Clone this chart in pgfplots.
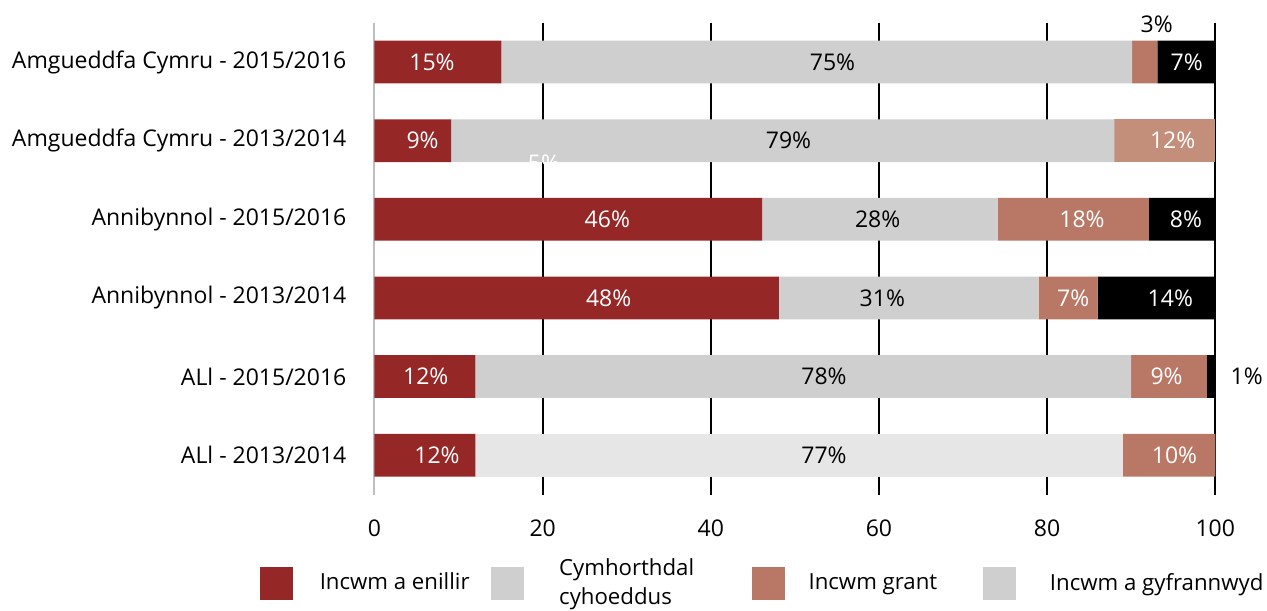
\documentclass[border=0pt]{standalone}
\usepackage{pgfplots}
\usepackage{pgfplotstable}
\pgfplotsset{compat=1.18}
\usepackage{fontspec}
\setmainfont{Open Sans}

\definecolor{enillir}{HTML}{952727}
\definecolor{cyhoedd}{HTML}{CFCFCF}
\definecolor{cyhoeddB}{HTML}{E6E6E6}
\definecolor{grant}{HTML}{B97866}
\definecolor{grantB}{HTML}{C38F7A}

% rows: 0 = Amgueddfa Cymru 2015/2016 ... 5 = ALl 2013/2014
\pgfplotstableread{
x y
15.1 0
9.1 1
46.1 2
48.1 3
12.0 4
12.0 5
}\tEnillir
\pgfplotstableread{
x y
75.0 0
78.9 1
28.0 2
30.9 3
78.0 4
0 5
}\tCyhoedd
\pgfplotstableread{
x y
0 0
0 1
0 2
0 3
0 4
77.0 5
}\tCyhoeddB
\pgfplotstableread{
x y
3.0 0
0 1
18.0 2
7.0 3
9.0 4
11.0 5
}\tGrant
\pgfplotstableread{
x y
0 0
12.0 1
0 2
0 3
0 4
0 5
}\tGrantB
\pgfplotstableread{
x y
6.9 0
0 1
7.9 2
14.0 3
1.0 4
0 5
}\tGyfrannwyd

% data labels: centre of the text
\pgfplotstableread{
x y label
6.84 0 15\%
5.72 1 9\%
27.69 2 46\%
27.85 3 48\%
6.1 4 12\%
7.43 5 12\%
94.93 1 12\%
84.14 2 18\%
83.1 3 7\%
94.2 4 9\%
95.15 5 10\%
96.6 0 7\%
96.51 2 8\%
94.65 3 14\%
20.16 1.288 5\%
}\tLblWhite
\pgfplotstableread{
x y label
54.47 0 75\%
49.24 1 79\%
59.84 2 28\%
60.4 3 31\%
53.46 4 78\%
53.46 5 77\%
93.03 -0.48 3\%
103.74 4 1\%
}\tLblBlack

\newcommand{\lblfont}{\fontsize{11.5}{14.5}\selectfont}
\newcommand{\legfont}{\fontsize{11.1}{14.5}\selectfont}

\pgfplotsset{
  frame/.style={scale only axis, width=420.4pt, height=235.9pt,
    xmin=0, xmax=100, ymin=-0.5, ymax=5.5, y dir=reverse},
}

\begin{document}
\begin{tikzpicture}
\useasboundingbox (-187.25pt,-57.75pt) rectangle (446.25pt,247.25pt);
\begin{axis}[
  frame,
  xbar stacked,
  bar width=21.35pt,
  axis lines*=left,
  x axis line style={draw=none},
  y axis line style={draw=black!25, line width=1pt},
  major tick length=0pt,
  xtick={0,20,...,100},
  extra x ticks={20,40,60,80,100},
  extra x tick labels={},
  extra x tick style={grid=major, major grid style={black, line width=1pt}},
  ytick={0,...,5},
  yticklabels={Amgueddfa Cymru - 2015/2016, Amgueddfa Cymru - 2013/2014,
    Annibynnol - 2015/2016, Annibynnol - 2013/2014,
    ALl - 2015/2016, ALl - 2013/2014},
  tick label style={font=\lblfont, text=black},
  /pgf/number format/assume math mode=true,
  xticklabel style={inner sep=0pt, yshift=-12.4pt},
  yticklabel style={inner sep=0pt, xshift=-13.9pt},
  legend columns=4,
  legend style={at={(0,0)}, anchor=west, xshift=-57.25pt, yshift=-44.25pt,
    draw=none, fill=none, inner sep=0pt, column sep=0pt, row sep=0pt,
    cells={anchor=west},
    nodes={inner sep=0pt, font=\legfont, text=black}},
]
\addlegendimage{legend image code/.code={\fill[enillir] (0pt,-8pt) rectangle (16pt,8pt); \path[draw=none] (0pt,0pt) rectangle (29.5pt,0pt);}}
\addlegendentry{\makebox[85.5pt][l]{Incwm a enillir}}
\addlegendimage{legend image code/.code={\fill[cyhoedd] (0pt,-8pt) rectangle (16pt,8pt); \path[draw=none] (0pt,0pt) rectangle (34pt,0pt);}}
\addlegendentry{\makebox[96.5pt][l]{\smash{\raisebox{3.25pt}{\begin{tabular}[t]{@{}l@{}}Cymhorthdal\\cyhoeddus\end{tabular}}}}}
\addlegendimage{legend image code/.code={\fill[grant] (0pt,-8pt) rectangle (16pt,8pt); \path[draw=none] (0pt,0pt) rectangle (28pt,0pt);}}
\addlegendentry{\makebox[87pt][l]{Incwm grant}}
\addlegendimage{legend image code/.code={\fill[cyhoedd] (0pt,-8pt) rectangle (16pt,8pt); \path[draw=none] (0pt,0pt) rectangle (33.5pt,0pt);}}
\addlegendentry{Incwm a gyfrannwyd}

\addplot[fill=enillir, draw=none] table[x=x, y=y] {\tEnillir};
\addplot[fill=cyhoedd, draw=none] table[x=x, y=y] {\tCyhoedd};
\addplot[fill=cyhoeddB, draw=none] table[x=x, y=y] {\tCyhoeddB};
\addplot[fill=grant, draw=none] table[x=x, y=y] {\tGrant};
\addplot[fill=grantB, draw=none] table[x=x, y=y] {\tGrantB};
\addplot[fill=black, draw=none] table[x=x, y=y] {\tGyfrannwyd};
\end{axis}
% labels in an overlaid axis of the same size, so that they are not stacked
\begin{axis}[
  frame,
  hide axis,
  clip=false,
  lbl/.style={only marks, mark=*, mark size=0pt, mark options={draw=none, fill=none},
    nodes near coords, point meta=explicit symbolic,
    nodes near coords style={anchor=center, inner sep=0pt, font=\lblfont, text=#1}},
]
\addplot[lbl=white] table[x=x, y=y, meta=label] {\tLblWhite};
\addplot[lbl=black] table[x=x, y=y, meta=label] {\tLblBlack};
\end{axis}
\end{tikzpicture}
\end{document}
